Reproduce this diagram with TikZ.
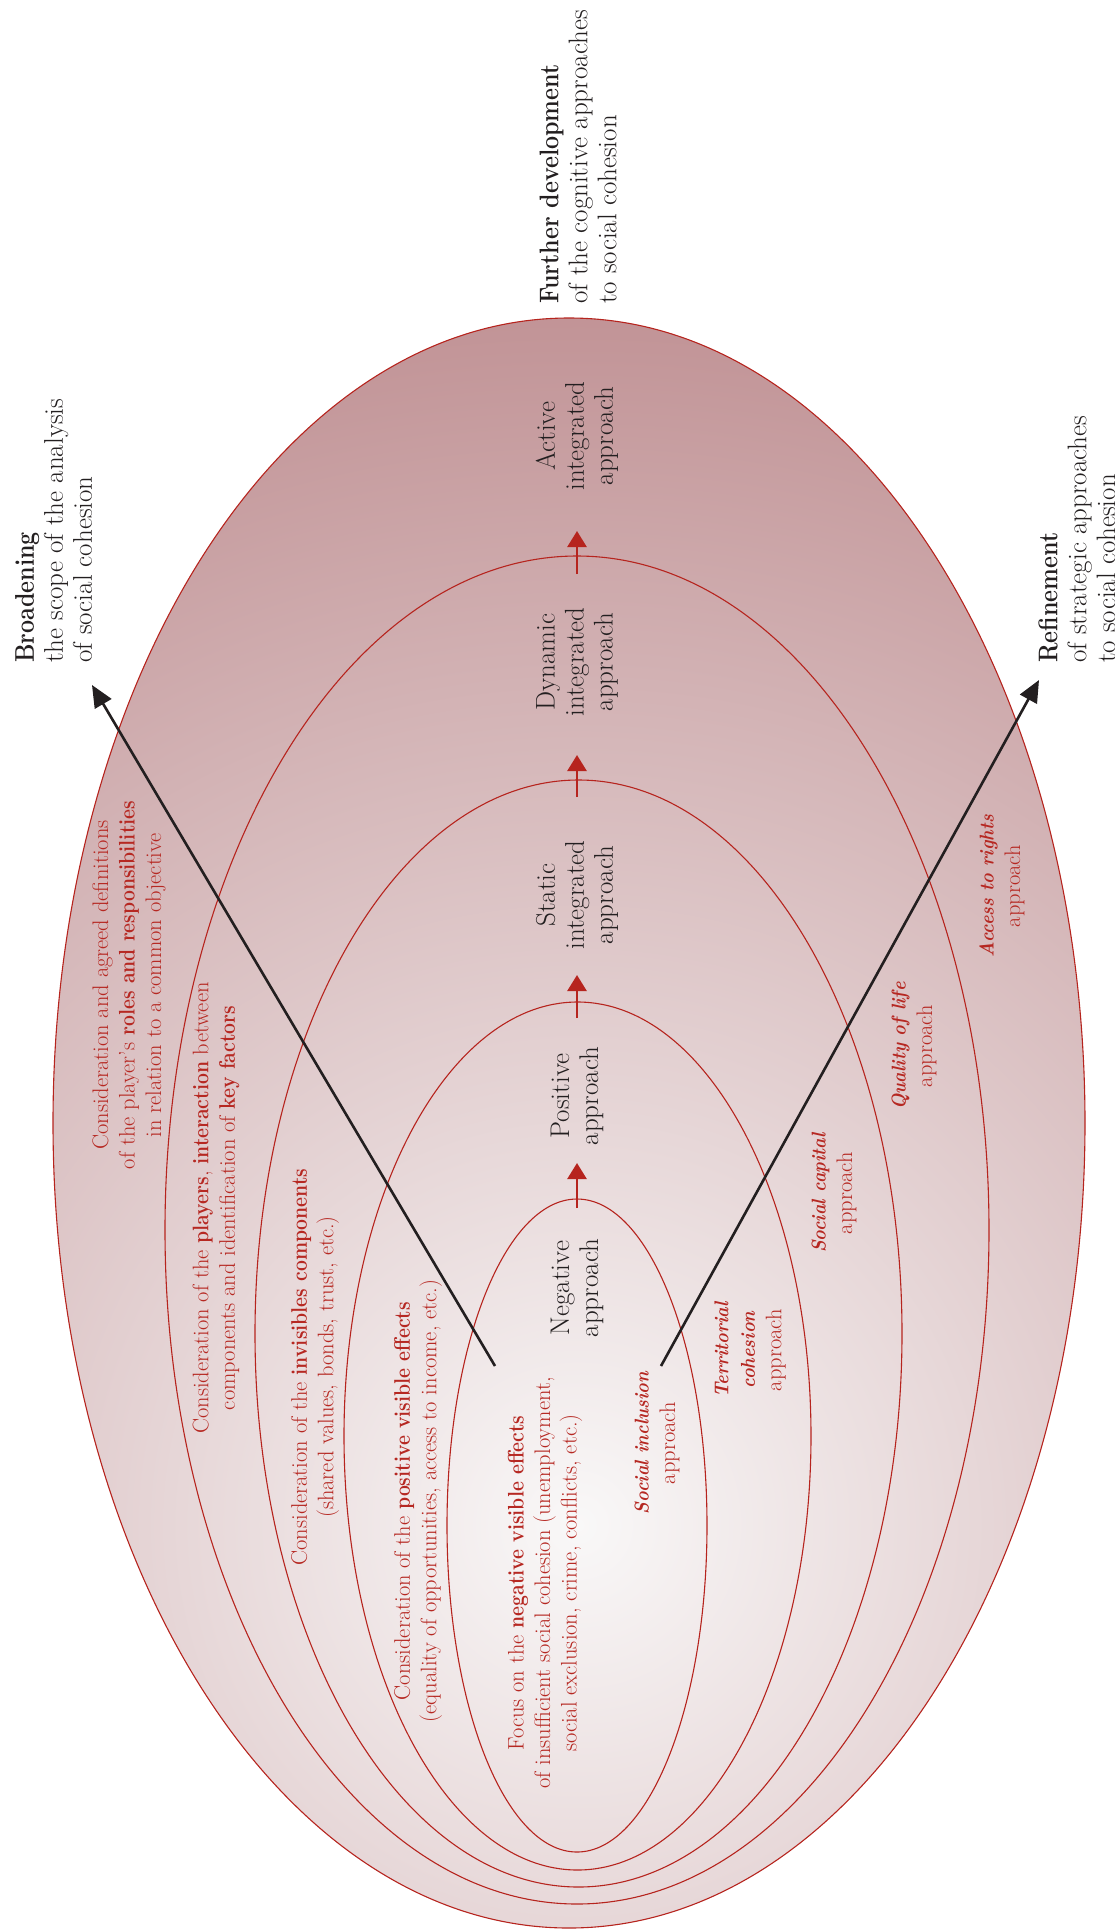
\documentclass[tikz,border=0pt]{standalone}
\usepackage{graphicx}
\usetikzlibrary{arrows.meta}

\definecolor{cohred}{RGB}{182,36,30}
\definecolor{cohtext}{RGB}{182,40,34}
\definecolor{inkblack}{RGB}{35,31,32}
\definecolor{fadein}{RGB}{249,248,248}
\definecolor{fadeout}{RGB}{192,145,148}

% slightly condensed bold for emphasis inside the labels
\newcommand{\tightbf}[1]{\scalebox{0.86}[1]{\bfseries #1}}
\newcommand{\namebi}[1]{{\fontsize{20}{26.5}\selectfont\scalebox{0.9}[1]{\bfseries\itshape #1}}}

\begin{document}
\begin{tikzpicture}[x=1pt,y=-1pt,
  ring/.style={draw=cohred, line width=1.1pt},
  stage/.style={text=inkblack, rotate=90, align=center, inner sep=0pt,
    font=\fontsize{27}{29}\selectfont},
  aim/.style={text=inkblack, rotate=90, align=left, anchor=west, inner sep=0pt,
    font=\fontsize{27}{29}\selectfont},
  focus/.style={text=cohtext, rotate=90, align=center, inner sep=0pt,
    font=\fontsize{22.5}{26.5}\selectfont},
  growarrow/.style={draw=cohred, line width=2.6pt,
    -{Triangle[length=16pt,width=19pt]}},
  trendarrow/.style={draw=inkblack, line width=2.6pt,
    -{Triangle[length=22pt,width=19pt]}},
]
\clip (0,0) rectangle (1115,1931);

% shaded field inside the outermost ring
\begin{scope}
  \clip (569,1123) ellipse [x radius=516, y radius=805];
  \shade[inner color=fadein, outer color=fadeout] (578,1525) circle (1240);
\end{scope}

% nested rings
\draw[ring] (569,1123) ellipse [x radius=516, y radius=805];
\draw[ring] (577,1230) ellipse [x radius=412, y radius=674];
\draw[ring] (578.5,1333.5) ellipse [x radius=323.5, y radius=553.5];
\draw[ring] (577.5,1436) ellipse [x radius=233.5, y radius=434];
\draw[ring] (577,1525.5) ellipse [x radius=130, y radius=326.5];

% stages along the central axis
\node[stage] (active)   at (577,436)  {Active\\integrated\\approach};
\node[stage] (dynamic)  at (577,662)  {Dynamic\\integrated\\approach};
\node[stage] (static)   at (577,895)  {Static\\integrated\\approach};
\node[stage] (positive) at (577,1096) {Positive\\approach};
\node[stage] (negative) at (577,1288) {Negative\\approach};

% progression arrows between the stages
\coordinate (negfoot) at (577,1208); \coordinate (negtip) at (577,1163);
\coordinate (posfoot) at (577,1018); \coordinate (postip) at (577,975);
\coordinate (stafoot) at (577,797);  \coordinate (statip) at (577,755);
\coordinate (dynfoot) at (577,574);  \coordinate (dyntip) at (577,531);
\draw[growarrow] (negfoot) -- (negtip);
\draw[growarrow] (posfoot) -- (postip);
\draw[growarrow] (stafoot) -- (statip);
\draw[growarrow] (dynfoot) -- (dyntip);

% cognitive approaches (left half)
\node[focus] (roles) at (129,985)
  {Consideration and agreed definitions\\of the player's \tightbf{roles and responsibilities}\\in relation to a common objective};
\node[focus] (players) at (216,1208)
  {Consideration of the \tightbf{players}, \tightbf{interaction} between\\components and identification of \tightbf{key factors}};
\node[focus] (invisible) at (315,1367)
  {Consideration of the \tightbf{invisibles components}\\(shared values, bonds, trust, etc.)};
\node[focus] (visible) at (418,1501)
  {Consideration of the \tightbf{positive visible effects}\\(equality of opportunities, access to income, etc.)};
\node[focus] (negfx) at (545,1583)
  {Focus on the \tightbf{negative visible effects}\\of insufficient social cohesion (unemployment,\\social exclusion, crime, conflicts, etc.)};

% strategic approaches (right half)
\node[focus] (inclusion)   at (657,1443) {\namebi{Social inclusion}\\approach};
\node[focus] (territorial) at (750,1350) {\namebi{Territorial}\\\namebi{cohesion}\\approach};
\node[focus] (capital)     at (834,1193) {\namebi{Social capital}\\approach};
\node[focus] (quality)     at (914,1046) {\namebi{Quality of life}\\approach};
\node[focus] (rights)      at (1002,886) {\namebi{Access to rights}\\approach};

% directions of development
\node[aim] (further) at (578,304)
  {\tightbf{Further development}\\of the cognitive approaches\\to social cohesion};
\node[aim] (broadening) at (53.5,663)
  {\tightbf{Broadening}\\the scope of the analysis\\of social cohesion};
\node[aim] (refinement) at (1077,663)
  {\tightbf{Refinement}\\of strategic approaches\\to social cohesion};

\coordinate (broadfoot) at (495,1366); \coordinate (broadtip) at (92,685);
\coordinate (refinefoot) at (661,1366); \coordinate (refinetip) at (1039,680);
\draw[trendarrow] (broadfoot) -- (broadtip);
\draw[trendarrow] (refinefoot) -- (refinetip);
\end{tikzpicture}
\end{document}
